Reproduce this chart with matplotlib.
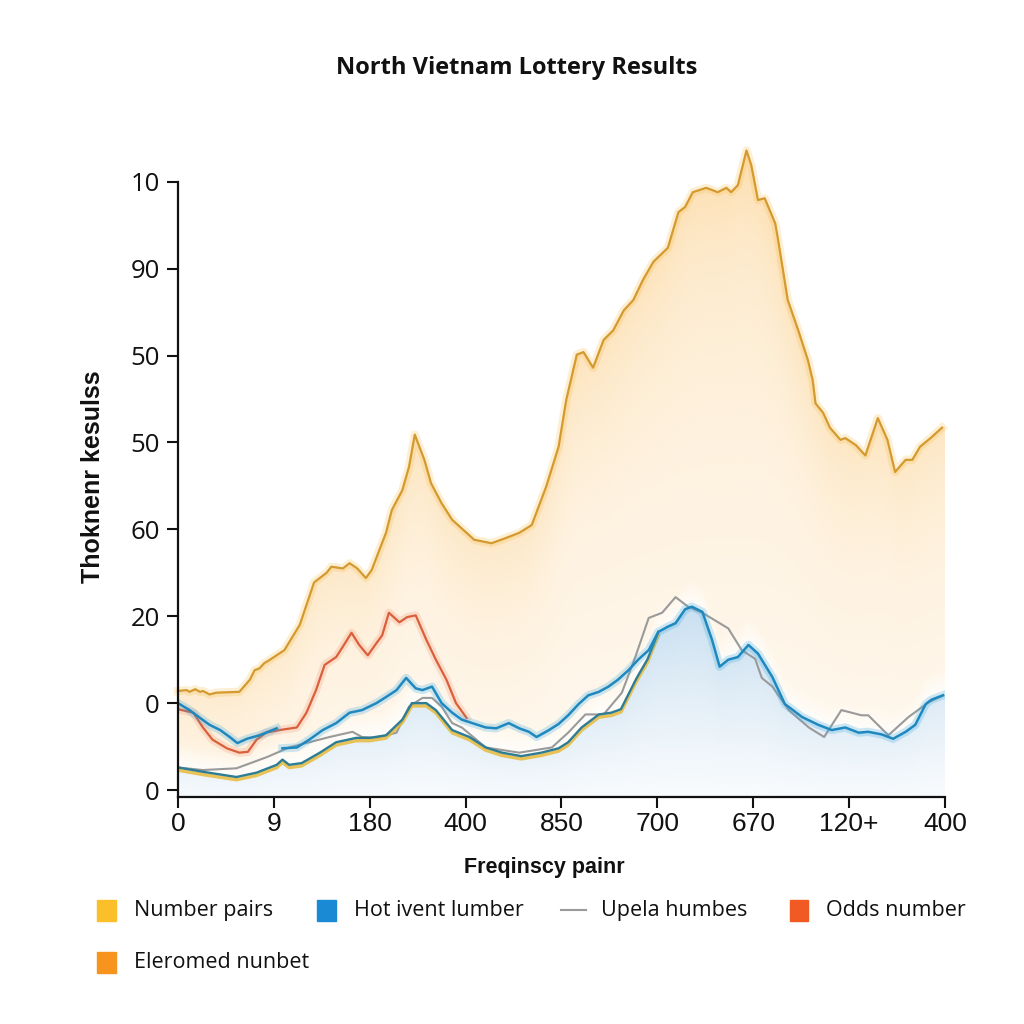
import numpy as np
import matplotlib
matplotlib.use("Agg")
import matplotlib.pyplot as plt
import matplotlib.patheffects as pe
from matplotlib.patches import Rectangle
from matplotlib.lines import Line2D
from matplotlib import font_manager

# tick labels (as printed on the chart)
x_labels = ["0", "9", "180", "400", "850", "700", "670", "120+", "400"]
y_labels = ["0", "0", "20", "60", "50", "50", "90", "10"]

# Number pairs (top gold curve)
pairs_x = [0.00, 0.09, 0.12, 0.18, 0.23, 0.26, 0.33, 0.40, 0.64, 0.75, 0.80, 0.85, 0.90, 0.96,
           1.11, 1.27, 1.42, 1.55, 1.60, 1.72, 1.79, 1.87, 1.96, 2.02, 2.10, 2.17, 2.23, 2.34,
           2.41, 2.47, 2.57, 2.64, 2.75, 2.86, 2.96, 3.09, 3.27, 3.42, 3.56, 3.69, 3.84, 3.97,
           4.05, 4.16, 4.23, 4.33, 4.44, 4.54, 4.65, 4.75, 4.85, 4.96, 5.11, 5.22, 5.29, 5.37,
           5.51, 5.63, 5.72, 5.77, 5.84, 5.93, 5.98, 6.05, 6.12, 6.23, 6.26, 6.36, 6.47, 6.57,
           6.62, 6.65, 6.73, 6.80, 6.91, 6.96, 7.07, 7.17, 7.30, 7.40, 7.48, 7.59, 7.66, 7.74,
           7.85, 7.97]
pairs_y = [1.14, 1.15, 1.13, 1.16, 1.13, 1.14, 1.10, 1.12, 1.13, 1.27, 1.38, 1.40, 1.46, 1.50,
           1.61, 1.90, 2.39, 2.50, 2.57, 2.55, 2.61, 2.55, 2.44, 2.53, 2.76, 2.96, 3.22, 3.45,
           3.72, 4.09, 3.80, 3.53, 3.30, 3.11, 3.01, 2.88, 2.84, 2.90, 2.96, 3.05, 3.49, 3.95,
           4.49, 5.01, 5.04, 4.86, 5.18, 5.29, 5.52, 5.64, 5.87, 6.08, 6.24, 6.65, 6.71, 6.88,
           6.93, 6.88, 6.93, 6.88, 6.96, 7.36, 7.19, 6.79, 6.81, 6.52, 6.33, 5.64, 5.29, 4.95,
           4.72, 4.45, 4.34, 4.17, 4.03, 4.05, 3.97, 3.85, 4.28, 4.03, 3.66, 3.80, 3.80, 3.95,
           4.05, 4.17]

# Odds number (red)
odds_x = [0.00, 0.16, 0.26, 0.36, 0.51, 0.64, 0.73, 0.82, 0.92, 1.06, 1.24, 1.34, 1.44, 1.53,
          1.65, 1.72, 1.81, 1.89, 1.98, 2.07, 2.13, 2.20, 2.31, 2.39, 2.48, 2.59, 2.69, 2.80,
          2.90, 3.01]
odds_y = [0.93, 0.89, 0.72, 0.58, 0.48, 0.43, 0.44, 0.58, 0.66, 0.69, 0.72, 0.89, 1.15, 1.44,
          1.53, 1.65, 1.81, 1.67, 1.55, 1.69, 1.78, 2.04, 1.93, 1.99, 2.01, 1.73, 1.50, 1.27,
          1.00, 0.83]

# Hot ivent lumber (blue)
hot_x = [0.00, 0.12, 0.23, 0.33, 0.44, 0.54, 0.62, 0.72, 0.85, 1.03, 1.06, 1.09, 1.24, 1.37,
         1.51, 1.65, 1.79, 1.92, 2.07, 2.17, 2.28, 2.38, 2.48, 2.55, 2.65, 2.75, 2.86, 2.96,
         3.07, 3.21, 3.32, 3.45, 3.56, 3.66, 3.74, 3.87, 3.97, 4.07, 4.18, 4.28, 4.39, 4.49,
         4.59, 4.70, 4.80, 4.91, 5.01, 5.11, 5.19, 5.29, 5.36, 5.47, 5.57, 5.65, 5.74, 5.84,
         5.95, 6.05, 6.20, 6.33, 6.51, 6.68, 6.82, 6.96, 7.10, 7.20, 7.34, 7.46, 7.59, 7.69,
         7.80, 7.86, 7.98]
hot_y = [1.00, 0.92, 0.83, 0.75, 0.69, 0.61, 0.54, 0.59, 0.63, 0.71, np.nan, 0.48, 0.49, 0.58,
         0.69, 0.77, 0.89, 0.92, 1.00, 1.07, 1.15, 1.29, 1.17, 1.15, 1.19, 1.00, 0.89, 0.81,
         0.77, 0.72, 0.71, 0.77, 0.71, 0.67, 0.61, 0.69, 0.76, 0.86, 0.99, 1.09, 1.13, 1.19,
         1.27, 1.38, 1.50, 1.61, 1.82, 1.88, 1.92, 2.08, 2.11, 2.05, 1.73, 1.42, 1.50, 1.53,
         1.67, 1.57, 1.30, 0.99, 0.84, 0.75, 0.69, 0.72, 0.66, 0.67, 0.64, 0.59, 0.67, 0.75,
         0.99, 1.04, 1.09]

# lower teal line (joins the blue curve near x=5)
low_x = [0.00, 0.26, 0.61, 0.82, 1.03, 1.09, 1.16, 1.29, 1.48, 1.65, 1.86, 2.00, 2.17, 2.34,
         2.44, 2.59, 2.69, 2.86, 3.04, 3.21, 3.38, 3.58, 3.79, 3.97, 4.07, 4.21, 4.39, 4.52,
         4.62, 4.78, 4.90, 5.01]
low_y = [0.26, 0.21, 0.15, 0.20, 0.29, 0.35, 0.29, 0.31, 0.43, 0.55, 0.60, 0.60, 0.63, 0.81,
         1.00, 1.00, 0.92, 0.69, 0.61, 0.49, 0.43, 0.39, 0.43, 0.48, 0.55, 0.72, 0.87, 0.89,
         0.93, 1.28, 1.51, 1.82]

# Upela humbes (gray)
upela_x = [0.00, 0.26, 0.61, 0.93, 1.16, 1.37, 1.58, 1.82, 1.92, 2.07, 2.28, 2.41, 2.55, 2.65,
           2.75, 2.86, 2.96, 3.21, 3.56, 3.90, 4.07, 4.25, 4.44, 4.63, 4.77, 4.91, 5.05, 5.19,
           5.32, 5.47, 5.74, 5.88, 6.02, 6.09, 6.20, 6.37, 6.58, 6.74, 6.92, 7.13, 7.20, 7.41,
           7.62, 7.83, 7.98]
upela_y = [0.26, 0.23, 0.25, 0.38, 0.49, 0.55, 0.61, 0.67, 0.61, 0.60, 0.66, 0.96, 1.06, 1.06,
           0.96, 0.77, 0.72, 0.49, 0.43, 0.49, 0.66, 0.87, 0.87, 1.12, 1.53, 1.98, 2.04, 2.22,
           2.11, 2.04, 1.86, 1.61, 1.51, 1.29, 1.19, 0.92, 0.72, 0.61, 0.92, 0.86, 0.86, 0.63,
           0.84, 1.01, 1.09]

legend_names = ["Number pairs", "Hot ivent lumber", "Upela humbes", "Odds number", "Eleromed nunbet"]
legend_colors = ["#fbbf2a", "#1a8ad4", "#9a9a9a", "#f15a22", "#f7941d"]

plt.rcParams["font.family"] = ["Open Sans", "DejaVu Sans"]
names = {f.name for f in font_manager.fontManager.ttflist}
narrow = "Liberation Sans Narrow" if "Liberation Sans Narrow" in names else "Liberation Sans"

fig = plt.figure(figsize=(10.24, 10.24), dpi=100)
ax = fig.add_axes([0.1738, 0.2217, 0.749, 0.639])
ymin, ymax = -0.08, 7.45
ax.set_xlim(0, 8)
ax.set_ylim(ymin, ymax)


def glow(color, w=6, a=0.22):
    return [pe.Stroke(linewidth=w, foreground=color, alpha=a), pe.Normal()]


def smooth(v, k=15):
    ker = np.ones(k) / k
    p = np.pad(v, k // 2, mode="edge")
    return np.convolve(p, ker, mode="valid")


# gradient fills
nx, ny = 800, 700
gx = np.linspace(0, 8, nx)
gy = np.linspace(ymin, ymax, ny)
GX, GY = np.meshgrid(gx, gy)

hx = np.array(hot_x)
hy = np.array(hot_y)
ok = ~np.isnan(hy) & (hx > 5.01)
base_x = np.concatenate([low_x, hx[ok]])
base_y = np.concatenate([low_y, hy[ok]])
bl = np.interp(gx, base_x, base_y)[None, :]
d2 = bl - GY

top_raw = np.interp(gx, pairs_x, pairs_y)
top_s = smooth(top_raw, 31)[None, :]
inside = GY <= top_raw[None, :]
d = top_s - GY
a = 0.13 + 0.035 * GY + 0.25 * np.exp(-np.clip(d, 0, None) / 1.0)
a = a * np.clip((-d2 + 0.05) / 0.35, 0, 1)
a = np.where(inside, a, 0)
img = np.zeros((ny, nx, 4))
img[..., 0], img[..., 1], img[..., 2] = 252 / 255, 208 / 255, 140 / 255
img[..., 3] = np.clip(a, 0, 1)
ax.imshow(img, extent=(0, 8, ymin, ymax), origin="lower", aspect="auto", zorder=1,
          interpolation="bilinear")

a2 = 0.08 + 0.22 * np.clip(GY, 0, 2) + 0.1 * np.exp(-np.clip(d2, 0, None) / 0.5)
a2 = np.where(d2 >= 0, a2, 0)
img2 = np.zeros((ny, nx, 4))
img2[..., 0], img2[..., 1], img2[..., 2] = 170 / 255, 205 / 255, 232 / 255
img2[..., 3] = np.clip(a2, 0, 1)
ax.imshow(img2, extent=(0, 8, ymin, ymax), origin="lower", aspect="auto", zorder=2,
          interpolation="bilinear")

# lines
ax.plot(pairs_x, pairs_y, color="#d49a30", lw=1.6, zorder=5, clip_on=False,
        path_effects=glow("#f7c050", 6, 0.25))
ax.plot(odds_x, odds_y, color="#d9603a", lw=1.6, zorder=5, path_effects=glow("#f08060", 6, 0.2))
ax.plot(upela_x, upela_y, color="#9a9a9a", lw=1.5, zorder=6)
ax.plot(low_x, low_y, color="#2f7d95", lw=1.7, zorder=6,
        path_effects=[pe.Stroke(offset=(0, -2), linewidth=2.5, foreground="#e8b730", alpha=0.8),
                      pe.Normal()])
ax.plot(hot_x, hot_y, color="#1e88bf", lw=1.8, zorder=7, path_effects=glow("#3aa8e0", 6, 0.25))

# axes styling
for s in ["top", "right"]:
    ax.spines[s].set_visible(False)
for s in ["left", "bottom"]:
    ax.spines[s].set_linewidth(1.6)
    ax.spines[s].set_color("#111111")
    ax.spines[s].set_zorder(10)
ax.spines["left"].set_bounds(ymin, 7)

ax.set_xticks(range(9))
ax.set_xticklabels(x_labels, fontsize=19, family=narrow)
ax.set_yticks(range(8))
ax.set_yticklabels(y_labels, fontsize=18.5)
ax.tick_params(axis="both", direction="out", length=8, width=1.5, colors="#111111")
ax.tick_params(axis="y", pad=5)
ax.tick_params(axis="x", pad=3)

ax.set_xlabel("Freqinscy painr", fontsize=15.5, fontweight="bold", family=narrow, color="#111111")
ax.xaxis.set_label_coords(0.478, -0.092)
ax.set_ylabel("Thoknenr kesulss", fontsize=18, fontweight="bold", family=narrow, color="#111111")
ax.yaxis.set_label_coords(-0.095, 0.49)

fig.text(0.505, 0.934, "North Vietnam Lottery Results", ha="center", va="center",
         fontsize=17, fontweight="bold", color="#111111")

# legend
leg_pos = [(0.104, 0.111), (0.319, 0.111), (0.560, 0.111), (0.780, 0.111), (0.104, 0.060)]
for name, color, (lx, ly) in zip(legend_names, legend_colors, leg_pos):
    if name == "Upela humbes":
        fig.add_artist(Line2D([lx - 0.012, lx + 0.012], [ly, ly], color=color, lw=1.5))
    else:
        fig.add_artist(Rectangle((lx - 0.009, ly - 0.0105), 0.018, 0.021, color=color))
    fig.text(lx + 0.027, ly, name, ha="left", va="center", fontsize=15.5, color="#111111")

fig.savefig("out.png", dpi=100, facecolor="white")
